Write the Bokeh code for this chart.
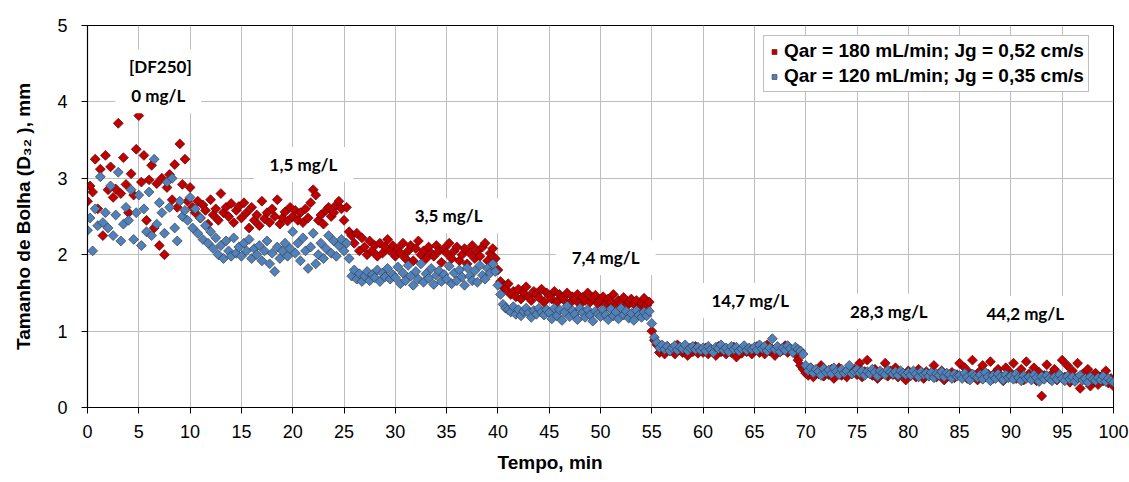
import math
from bokeh.plotting import figure
from bokeh.models import Label, FixedTicker, Range1d, Title
from bokeh.embed import file_html
from bokeh.resources import INLINE

# ---------------- data ----------------
t_start = 0.0      # min
t_step = 0.25      # min between readings

# Qar = 180 mL/min ; Jg = 0,52 cm/s   (D32, mm)
d32_180 = [
    2.70, 2.90, 2.82, 3.25, 2.60, 3.12, 2.25, 3.30, 2.85, 3.15, 2.75, 2.86, 3.72, 2.80, 3.27, 2.92, 2.55, 3.06, 2.78, 3.38,
    3.82, 2.95, 3.30, 2.45, 2.98, 3.17, 2.35, 2.93, 2.12, 3.00, 2.00, 2.88, 3.05, 2.72, 3.18, 2.62, 3.45, 2.92, 3.25, 2.70,
    2.88, 2.62, 2.55, 2.70, 2.48, 2.65, 2.58, 2.40, 2.72, 2.52, 2.60, 2.45, 2.80, 2.55, 2.62, 2.50, 2.67, 2.42, 2.58, 2.63,
    2.48, 2.68, 2.55, 2.35, 2.62, 2.45, 2.52, 2.38, 2.70, 2.47, 2.55, 2.42, 2.60, 2.50, 2.72, 2.40, 2.48, 2.56, 2.44, 2.62,
    2.50, 2.58, 2.45, 2.55, 2.42, 2.60, 2.48, 2.68, 2.85, 2.78, 2.45, 2.52, 2.40, 2.58, 2.62, 2.50, 2.55, 2.65, 2.70, 2.60,
    2.45, 2.62, 2.30, 2.25, 2.15, 2.28, 2.05, 2.22, 2.10, 2.00, 2.18, 2.05, 2.12, 1.98, 2.15, 2.02, 2.10, 2.20, 2.05, 2.12,
    1.98, 2.08, 2.02, 2.15, 1.95, 2.05, 2.12, 1.92, 2.08, 2.18, 2.00, 2.05, 1.95, 2.10, 2.02, 1.98, 2.12, 2.05, 1.90, 2.08,
    2.02, 2.15, 1.95, 2.05, 2.10, 1.92, 2.00, 2.08, 1.88, 2.02, 2.12, 1.95, 2.05, 1.98, 2.10, 2.15, 1.92, 2.02, 2.08, 1.95,
    1.80, 1.65, 1.58, 1.55, 1.62, 1.48, 1.52, 1.45, 1.55, 1.42, 1.50, 1.58, 1.45, 1.40, 1.52, 1.48, 1.44, 1.55, 1.38, 1.50,
    1.46, 1.42, 1.52, 1.38, 1.48, 1.44, 1.40, 1.50, 1.36, 1.45, 1.42, 1.48, 1.35, 1.44, 1.40, 1.50, 1.38, 1.43, 1.47, 1.36,
    1.40, 1.45, 1.35, 1.42, 1.38, 1.48, 1.33, 1.40, 1.36, 1.44, 1.32, 1.38, 1.42, 1.35, 1.40, 1.30, 1.37, 1.43, 1.34, 1.38,
    1.00, 0.88, 0.82, 0.72, 0.78, 0.70, 0.80, 0.74, 0.76, 0.70, 0.82, 0.75, 0.72, 0.78, 0.68, 0.76, 0.73, 0.80, 0.71, 0.75,
    0.72, 0.78, 0.70, 0.76, 0.74, 0.68, 0.80, 0.73, 0.77, 0.70, 0.75, 0.72, 0.79, 0.66, 0.74, 0.71, 0.78, 0.73, 0.76, 0.70,
    0.75, 0.80, 0.72, 0.77, 0.70, 0.82, 0.74, 0.76, 0.68, 0.79, 0.73, 0.75, 0.81, 0.72, 0.76, 0.74, 0.70, 0.62, 0.55, 0.50,
    0.45, 0.42, 0.52, 0.40, 0.48, 0.44, 0.55, 0.41, 0.47, 0.43, 0.50, 0.38, 0.46, 0.52, 0.42, 0.45, 0.40, 0.48, 0.44, 0.50,
    0.43, 0.58, 0.40, 0.47, 0.62, 0.45, 0.42, 0.50, 0.38, 0.46, 0.44, 0.58, 0.41, 0.48, 0.43, 0.52, 0.40, 0.46, 0.44, 0.36,
    0.48, 0.42, 0.45, 0.40, 0.50, 0.44, 0.38, 0.47, 0.42, 0.45, 0.55, 0.40, 0.43, 0.48, 0.36, 0.44, 0.41, 0.46, 0.39, 0.43,
    0.58, 0.40, 0.52, 0.38, 0.45, 0.62, 0.42, 0.36, 0.48, 0.55, 0.40, 0.44, 0.60, 0.38, 0.46, 0.50, 0.42, 0.35, 0.52, 0.40,
    0.45, 0.58, 0.38, 0.42, 0.50, 0.36, 0.60, 0.44, 0.40, 0.52, 0.35, 0.46, 0.15, 0.42, 0.56, 0.38, 0.44, 0.50, 0.36, 0.42,
    0.62, 0.40, 0.55, 0.33, 0.48, 0.38, 0.58, 0.25, 0.44, 0.36, 0.50, 0.28, 0.42, 0.45, 0.30, 0.40, 0.35, 0.48, 0.32, 0.38,
    0.28,
]

# Qar = 120 mL/min ; Jg = 0,35 cm/s   (D32, mm)
d32_120 = [
    2.32, 2.48, 2.05, 2.60, 2.38, 3.02, 2.42, 2.55, 2.35, 2.90, 2.25, 2.52, 3.08, 2.18, 2.40, 2.62, 2.45, 2.85, 2.20, 2.55,
    2.78, 2.12, 2.60, 2.30, 2.82, 2.25, 3.25, 2.40, 2.68, 2.55, 2.28, 2.95, 2.62, 3.00, 2.35, 2.18, 2.70, 2.50, 2.58, 2.45,
    2.75, 2.35, 2.60, 2.28, 2.48, 2.20, 2.38, 2.15, 2.30, 2.08, 2.22, 2.00, 2.12, 1.95, 2.18, 2.05, 1.98, 2.22, 2.02, 2.10,
    1.98, 2.15, 2.05, 2.20, 1.95, 2.08, 2.00, 2.12, 1.92, 2.05, 2.18, 1.88, 2.02, 1.78, 2.10, 1.95, 2.05, 2.15, 1.98, 2.08,
    2.30, 2.02, 2.15, 1.92, 2.22, 2.05, 1.82, 2.10, 2.28, 1.88, 2.00, 2.15, 1.95, 2.08, 2.25, 2.02, 2.18, 1.98, 2.12, 2.20,
    2.05, 2.15, 1.95, 1.72, 1.80, 1.68, 1.75, 1.65, 1.72, 1.78, 1.66, 1.74, 1.70, 1.80, 1.65, 1.76, 1.71, 1.82, 1.68, 1.74,
    1.70, 1.84, 1.62, 1.76, 1.66, 1.86, 1.72, 1.60, 1.78, 1.68, 1.88, 1.64, 1.75, 1.69, 1.82, 1.61, 1.73, 1.79, 1.65, 1.74,
    1.68, 1.85, 1.62, 1.76, 1.66, 1.80, 1.71, 1.60, 1.83, 1.72, 1.66, 1.79, 1.64, 1.86, 1.73, 1.68, 1.82, 1.76, 1.88, 1.78,
    1.60, 1.48, 1.35, 1.30, 1.28, 1.25, 1.32, 1.22, 1.28, 1.20, 1.26, 1.30, 1.24, 1.18, 1.27, 1.22, 1.30, 1.25, 1.21, 1.28,
    1.24, 1.16, 1.30, 1.20, 1.28, 1.14, 1.25, 1.33, 1.19, 1.27, 1.22, 1.15, 1.30, 1.24, 1.18, 1.28, 1.21, 1.13, 1.26, 1.22,
    1.19, 1.28, 1.21, 1.15, 1.29, 1.20, 1.25, 1.16, 1.30, 1.21, 1.26, 1.17, 1.23, 1.14, 1.27, 1.21, 1.18, 1.25, 1.20, 1.26,
    1.10, 0.92, 0.85, 0.78, 0.82, 0.76, 0.80, 0.74, 0.78, 0.81, 0.75, 0.79, 0.77, 0.82, 0.74, 0.78, 0.80, 0.76, 0.79, 0.75,
    0.78, 0.74, 0.80, 0.76, 0.72, 0.79, 0.77, 0.82, 0.75, 0.78, 0.73, 0.80, 0.76, 0.79, 0.74, 0.77, 0.81, 0.75, 0.78, 0.76,
    0.79, 0.75, 0.82, 0.77, 0.80, 0.74, 0.78, 0.90, 0.76, 0.80, 0.73, 0.78, 0.75, 0.81, 0.77, 0.72, 0.79, 0.76, 0.74, 0.70,
    0.55, 0.48, 0.52, 0.45, 0.50, 0.47, 0.42, 0.51, 0.46, 0.49, 0.44, 0.52, 0.47, 0.43, 0.50, 0.45, 0.48, 0.55, 0.44, 0.47,
    0.50, 0.45, 0.48, 0.42, 0.47, 0.44, 0.50, 0.46, 0.41, 0.48, 0.45, 0.43, 0.49, 0.46, 0.44, 0.47, 0.42, 0.48, 0.45, 0.43,
    0.46, 0.42, 0.48, 0.44, 0.40, 0.47, 0.43, 0.45, 0.41, 0.46, 0.39, 0.44, 0.42, 0.47, 0.40, 0.45, 0.43, 0.38, 0.44, 0.41,
    0.42, 0.38, 0.45, 0.40, 0.36, 0.44, 0.41, 0.39, 0.43, 0.37, 0.46, 0.40, 0.35, 0.42, 0.38, 0.44, 0.40, 0.36, 0.43, 0.39,
    0.41, 0.37, 0.44, 0.39, 0.35, 0.42, 0.38, 0.40, 0.36, 0.43, 0.39, 0.34, 0.41, 0.37, 0.42, 0.38, 0.35, 0.40, 0.37, 0.43,
    0.38, 0.35, 0.41, 0.37, 0.40, 0.34, 0.39, 0.42, 0.36, 0.38, 0.33, 0.40, 0.37, 0.35, 0.39, 0.36, 0.41, 0.34, 0.38, 0.35,
    0.33,
]

tempo = [round(t_start + i * t_step, 2) for i in range(len(d32_180))]

series_names = ["Qar = 180 mL/min; Jg = 0,52 cm/s", "Qar = 120 mL/min; Jg = 0,35 cm/s"]

x_ticks = [0, 5, 10, 15, 20, 25, 30, 35, 40, 45, 50, 55, 60, 65, 70, 75, 80, 85, 90, 95, 100]
y_ticks = [0, 1, 2, 3, 4, 5]

note_text = ["[DF250]", "0 mg/L", "1,5 mg/L", "3,5 mg/L", "7,4 mg/L", "14,7 mg/L", "28,3 mg/L", "44,2 mg/L"]
note_x = [7.1, 6.9, 21.05, 35.2, 50.5, 64.6, 78.1, 91.4]
note_y = [4.46, 4.08, 3.18, 2.51, 1.96, 1.40, 1.26, 1.23]

x_title = "Tempo, min"
y_title = "Tamanho de Bolha (D\u2083\u2082 ), mm"

# ---------------- figure ----------------
p = figure(width=1129, height=482, output_backend="svg", toolbar_location=None,
           x_range=Range1d(0, 100), y_range=Range1d(0, 5),
           min_border_left=87, min_border_right=16, min_border_top=25, min_border_bottom=75)
p.background_fill_color = "white"
p.border_fill_color = "white"
p.outline_line_color = "black"
p.outline_line_width = 1

for ax in (p.xaxis[0], p.yaxis[0]):
    ax.axis_line_color = "black"
    ax.axis_line_width = 1.2
    ax.major_tick_line_color = "black"
    ax.major_tick_in = 0
    ax.major_tick_out = 6
    ax.minor_tick_line_color = None
    ax.major_label_text_font = "Liberation Sans"
    ax.major_label_text_font_size = "18px"
    ax.major_label_text_color = "black"

p.xaxis[0].ticker = FixedTicker(ticks=x_ticks)
p.yaxis[0].ticker = FixedTicker(ticks=y_ticks)
p.xaxis[0].major_label_standoff = 11
p.yaxis[0].major_label_standoff = 14

p.yaxis[0].axis_label = y_title
p.yaxis[0].axis_label_text_font = "Liberation Sans"
p.yaxis[0].axis_label_text_font_style = "bold"
p.yaxis[0].axis_label_text_font_size = "19px"
p.yaxis[0].axis_label_text_color = "black"
p.yaxis[0].axis_label_standoff = 20

p.xgrid[0].ticker = FixedTicker(ticks=x_ticks)
p.ygrid[0].ticker = FixedTicker(ticks=y_ticks)
p.xgrid.grid_line_color = "#BEBEBE"
p.ygrid.grid_line_color = "#BEBEBE"
p.xgrid.grid_line_width = 1
p.ygrid.grid_line_width = 1

p.scatter(tempo, d32_180, marker="square", size=7, angle=math.pi / 4,
          fill_color="#C00000", line_color="#5A0000", line_width=0.7,
          legend_label=series_names[0])
p.scatter(tempo, d32_120, marker="square", size=7, angle=math.pi / 4,
          fill_color="#4F81BD", line_color="#3A3A3A", line_width=0.7,
          legend_label=series_names[1])

for tx, ty, tt in zip(note_x, note_y, note_text):
    p.add_layout(Label(x=tx, y=ty, text=tt, text_align="center", text_baseline="middle",
                       text_font="Lato", text_font_style="bold", text_font_size="17px",
                       text_color="black", background_fill_color="white",
                       padding=(16, 7)))

p.add_layout(Title(text=x_title, align="left", offset=410, standoff=18,
                   text_font="Liberation Sans", text_font_style="bold", text_font_size="19px",
                   text_color="black"), "below")

lg = p.legend[0]
lg.location = (676, 315)
lg.border_line_color = "#808080"
lg.border_line_width = 1
lg.background_fill_color = "white"
lg.background_fill_alpha = 1
lg.label_text_font = "Liberation Sans"
lg.label_text_font_style = "bold"
lg.label_text_font_size = "19px"
lg.label_text_color = "black"
lg.glyph_width = 12
lg.glyph_height = 21
lg.label_height = 21
lg.label_standoff = 4
lg.padding = 4
lg.margin = 0
lg.spacing = 3

open("out.html", "w").write(file_html(p, INLINE))
